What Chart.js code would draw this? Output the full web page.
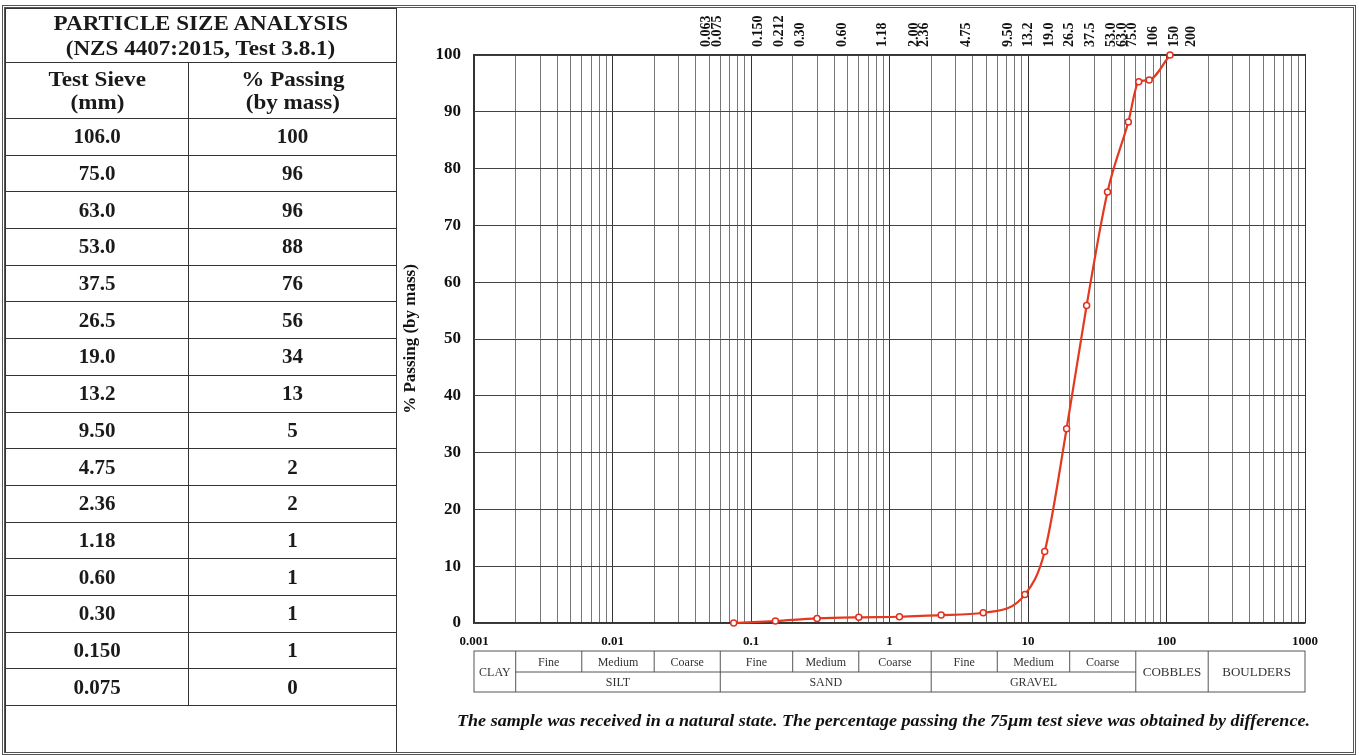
<!DOCTYPE html>
<html><head><meta charset="utf-8">
<script src="https://cdn.jsdelivr.net/npm/chart.js@4/dist/chart.umd.min.js"></script>
<style>
body{margin:0;background:#fff;width:1359px;height:755px;overflow:hidden;position:relative;font-family:"Liberation Serif","Times New Roman",Times,serif;}
#frame{position:absolute;left:2px;top:5px;width:1354px;height:750px;box-sizing:border-box;border:3px double #555;pointer-events:none;}
#tbl{position:absolute;left:5px;top:8px;width:391px;border-collapse:collapse;table-layout:fixed;}
#tbl td{border:1.5px solid #333;text-align:center;font-weight:bold;font-size:21px;color:#1a1a1a;padding:0;line-height:23px;font-family:"Liberation Serif","Times New Roman",Times,serif;}
#tbl td.ttl{line-height:25px;}
#tbl td span.w{display:inline-block;transform:scaleX(1.1);transform-origin:50% 50%;}
#chartWrap{position:absolute;left:397px;top:0;width:962px;height:755px;}
#foot{position:absolute;left:457px;top:711px;white-space:nowrap;font:italic bold 17px "Liberation Serif","Times New Roman",Times,serif;transform-origin:0 0;color:#111;}
</style></head>
<body>
<div id="chartWrap"><canvas id="c" width="962" height="755"></canvas></div>
<table id="tbl"></table>
<div id="frame"></div>
<span id="foot">The sample was received in a natural state. The percentage passing the 75µm test sieve was obtained by difference.</span>
<script>
// ---- data ----
const sieveSizes   = [106, 75, 63, 53, 37.5, 26.5, 19, 13.2, 9.5, 4.75, 2.36, 1.18, 0.6, 0.3, 0.15, 0.075];
const sieveLabels  = ['106.0','75.0','63.0','53.0','37.5','26.5','19.0','13.2','9.50','4.75','2.36','1.18','0.60','0.30','0.150','0.075'];
const passingTable = [100, 96, 96, 88, 76, 56, 34, 13, 5, 2, 2, 1, 1, 1, 1, 0];
const passingCurve = [100, 95.6, 95.3, 88.2, 75.9, 55.9, 34.2, 12.6, 5.0, 1.8, 1.4, 1.1, 1.0, 0.8, 0.35, 0];

const topSieveValues = [0.063,0.075,0.15,0.212,0.3,0.6,1.18,2,2.36,4.75,9.5,13.2,19,26.5,37.5,53,63,75,106,150,200];
const topSieveLabels = ['0.063','0.075','0.150','0.212','0.30','0.60','1.18','2.00','2.36','4.75','9.50','13.2','19.0','26.5','37.5','53.0','63.0','75.0','106','150','200'];

const decadeValues = [0.001, 0.01, 0.1, 1, 10, 100, 1000];
const decadeLabels = ['0.001','0.01','0.1','1','10','100','1000'];
const gridMantissas = [1,2,3,4,5,6,7,8,9];

const classBounds = [0.001,0.002,0.006,0.02,0.06,0.2,0.6,2,6,20,60,200,1000];
const classNames  = ['CLAY','Fine','Medium','Coarse','Fine','Medium','Coarse','Fine','Medium','Coarse','COBBLES','BOULDERS'];
const fullHeightClasses = ['CLAY','COBBLES','BOULDERS'];
const groupNames  = ['SILT','SAND','GRAVEL'];
const groupBounds = [0.002, 0.06, 2, 60];

// ---- left table ----
(function(){
  const t = document.getElementById('tbl');
  const w = s => '<span class="w">' + s + '</span>';
  let h = '<colgroup><col style="width:183px"><col style="width:208px"></colgroup>';
  h += '<tr style="height:54px"><td colspan="2" class="ttl">'+w('PARTICLE SIZE ANALYSIS')+'<br>'+w('(NZS 4407:2015, Test 3.8.1)')+'</td></tr>';
  h += '<tr style="height:56px"><td>'+w('Test Sieve')+'<br>'+w('(mm)')+'</td><td>'+w('% Passing')+'<br>'+w('(by mass)')+'</td></tr>';
  for (let i=0;i<sieveLabels.length;i++){
    h += '<tr style="height:36.7px"><td>'+sieveLabels[i]+'</td><td>'+passingTable[i]+'</td></tr>';
  }
  h += '<tr style="height:47px"><td colspan="2" style="border-right:1.5px solid #333"></td></tr>';
  t.innerHTML = h;
})();

// ---- chart ----
const gridValues = [];
decadeValues.slice(0,-1).forEach(d => gridMantissas.forEach(m => gridValues.push(+(m*d).toPrecision(3))));
gridValues.push(decadeValues[decadeValues.length-1]);
const isDecade = v => decadeValues.some(d => Math.abs(Math.log10(d)-Math.log10(v)) < 1e-6);
const serif = '"Liberation Serif", "Times New Roman", Times, serif';

const classPlugin = {
  id:'classTable',
  afterDraw(chart){
    const ctx = chart.ctx, xs = chart.scales.x, ca = chart.chartArea;
    const top = ca.bottom + 28, mid = ca.bottom + 49, bot = ca.bottom + 69;
    const px = v => xs.getPixelForValue(v);
    const gStart = groupBounds[0], gEnd = groupBounds[groupBounds.length-1];
    ctx.save();
    ctx.strokeStyle = '#555'; ctx.lineWidth = 1;
    ctx.strokeRect(px(classBounds[0]), top, px(classBounds[classBounds.length-1]) - px(classBounds[0]), bot - top);
    ctx.beginPath(); ctx.moveTo(px(gStart), mid); ctx.lineTo(px(gEnd), mid); ctx.stroke();
    for (let i=1;i<classBounds.length-1;i++){
      const b = classBounds[i];
      const full = groupBounds.includes(b) || b < gStart || b > gEnd;
      ctx.beginPath(); ctx.moveTo(px(b), top); ctx.lineTo(px(b), full ? bot : mid); ctx.stroke();
    }
    ctx.fillStyle = '#333'; ctx.textAlign = 'center'; ctx.textBaseline = 'middle';
    for (let i=0;i<classNames.length;i++){
      const cx = (px(classBounds[i]) + px(classBounds[i+1]))/2;
      if (fullHeightClasses.includes(classNames[i])){
        ctx.font = (classNames[i]==='CLAY' ? '12px ' : '13px ') + serif;
        ctx.fillText(classNames[i], cx, (top+bot)/2 + 1);
      } else {
        ctx.font = '12px ' + serif;
        ctx.fillText(classNames[i], cx, (top+mid)/2 + 1);
      }
    }
    ctx.font = '12px ' + serif;
    for (let g=0; g<groupNames.length; g++){
      const cx = (px(groupBounds[g]) + px(groupBounds[g+1]))/2;
      ctx.fillText(groupNames[g], cx, (mid+bot)/2 + 1);
    }
    ctx.restore();
  }
};

new Chart(document.getElementById('c'), {
  type:'line',
  data:{ datasets:[{
    data: sieveSizes.map((s,i)=>({x:s, y:passingCurve[i]})),
    xAxisID:'x', yAxisID:'y',
    borderColor:'#e5391f', borderWidth:2.2,
    pointRadius:3, pointBackgroundColor:'#fff', pointBorderColor:'#e03020', pointBorderWidth:1.5,
    cubicInterpolationMode:'monotone', clip:false
  }]},
  options:{
    responsive:false, devicePixelRatio:1, animation:false,
    layout:{ padding:{ left:0, right:54, top:0, bottom:0 } },
    plugins:{ legend:{display:false}, tooltip:{enabled:false} },
    scales:{
      x:{
        type:'logarithmic', position:'bottom', min:0.001, max:1000,
        afterBuildTicks: s => { s.ticks = gridValues.map(v=>({value:v})); },
        afterFit: s => { s.height = 132; },
        ticks:{ autoSkip:false, minRotation:0, maxRotation:0, padding:11, color:'#111',
          font:{family:serif, weight:'bold', size:13},
          callback: v => { const i = decadeValues.findIndex(d => Math.abs(Math.log10(d)-Math.log10(v))<1e-6); return i>=0 ? decadeLabels[i] : ''; } },
        grid:{ drawTicks:false, lineWidth:1, color: c => (c.tick && isDecade(c.tick.value)) ? '#333' : '#777' },
        border:{ color:'#333', width:1.5 }
      },
      x2:{
        type:'logarithmic', position:'top', min:0.001, max:1000,
        afterBuildTicks: s => { s.ticks = topSieveValues.map(v=>({value:v})); },
        afterFit: s => { s.height = 55; },
        ticks:{ autoSkip:false, minRotation:90, maxRotation:90, padding:8, color:'#111',
          font:{family:serif, weight:'bold', size:14},
          callback: (v,i) => topSieveLabels[i] },
        grid:{ display:false, drawTicks:false },
        border:{ display:true, color:'#333', width:1.5 }
      },
      y:{
        min:0, max:100,
        afterFit: s => { s.width = 77; },
        ticks:{ stepSize:10, padding:13, color:'#111', font:{family:serif, weight:'bold', size:17} },
        grid:{ drawTicks:false, color:'#444', lineWidth:1 },
        border:{ color:'#333', width:1.5 },
        title:{ display:true, text:'% Passing (by mass)', color:'#111', font:{family:serif, weight:'bold', size:17}, padding:{top:3,bottom:2} }
      }
    }
  },
  plugins:[classPlugin]
});

// footer width fit
(function(){
  const f = document.getElementById('foot');
  const w = f.getBoundingClientRect().width;
  f.style.transform = 'scaleX(' + (853 / w) + ')';
})();
</script>
</body></html>
